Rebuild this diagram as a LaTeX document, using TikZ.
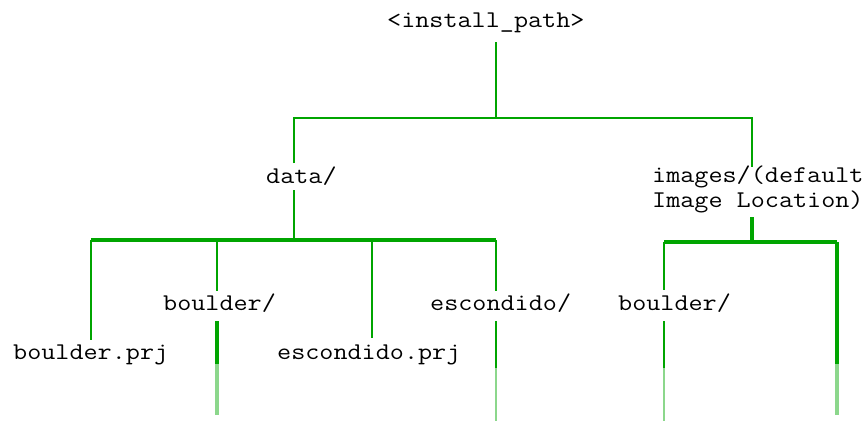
\documentclass[tikz,border=0pt]{standalone}
\usepackage{fontspec}
\newfontfamily\treefont[FakeStretch=1.14]{Latin Modern Mono}
\definecolor{treegreen}{RGB}{0,165,0}
\definecolor{fadegreen}{RGB}{140,215,140}
\tikzset{
  lbl/.style={inner sep=0pt, anchor=base west, font=\treefont\fontsize{24}{25}\selectfont, text=black},
  thin/.style={draw=treegreen, line width=2pt},
  thick/.style={draw=treegreen, line width=3.6pt},
  fade/.style={draw=fadegreen, line width=2pt},
  fadethick/.style={draw=fadegreen, line width=3.4pt}
}
\begin{document}
\begin{tikzpicture}[x=1pt,y=-1pt]
\useasboundingbox[fill=white] (0,0) rectangle (868,421);
% nodes
\node[lbl] (root) at (387,27) {<install\_path>};
\node[lbl] (data) at (266,183) {data/};
\node[lbl, align=left, anchor=north west] (images) at (652,166) {images/(default\\Image Location)};
\node[lbl] (bprj) at (13,359) {boulder.prj};
\node[lbl] (bdir) at (163,310) {boulder/};
\node[lbl] (eprj) at (277,359) {escondido.prj};
\node[lbl] (edir) at (430,310) {escondido/};
\node[lbl] (ibdir) at (618,310) {boulder/};
% coordinates
\coordinate (rootdown) at (496,42);
\coordinate (jtop) at (496,118);
\coordinate (jl) at (294,118);
\coordinate (jr) at (752,118);
\coordinate (dataup) at (294,163);
\coordinate (datadown) at (294,190);
\coordinate (jdata) at (294,240);
\coordinate (imgup) at (752,167);
\coordinate (imgdown) at (752,217);
\coordinate (jimg) at (752,242);
% level 1
\draw[thin] (rootdown) -- (jtop);
\draw[thin] (dataup) -- (jl) -- (jr) -- (imgup);
% data children
\draw[thin] (datadown) -- (jdata);
\draw[thick] (91,240) -- (496,240);
\draw[thin] (91,240) -- (91,340);
\draw[thin] (217,240) -- (217,291);
\draw[thin] (372,240) -- (372,338);
\draw[thin] (496,240) -- (496,291);
% continuation below data dirs
\draw[thick] (217,321) -- (217,364);
\draw[fadethick] (217,364) -- (217,415);
\draw[thin] (496,321) -- (496,368);
\draw[fade] (496,368) -- (496,421);
% images children
\draw[thick] (imgdown) -- (jimg);
\draw[thick] (664,242) -- (837,242);
\draw[thin] (664,242) -- (664,290);
\draw[thin] (664,321) -- (664,368);
\draw[fade] (664,368) -- (664,421);
\draw[thick] (837,242) -- (837,364);
\draw[fadethick] (837,364) -- (837,415);
\end{tikzpicture}
\end{document}
